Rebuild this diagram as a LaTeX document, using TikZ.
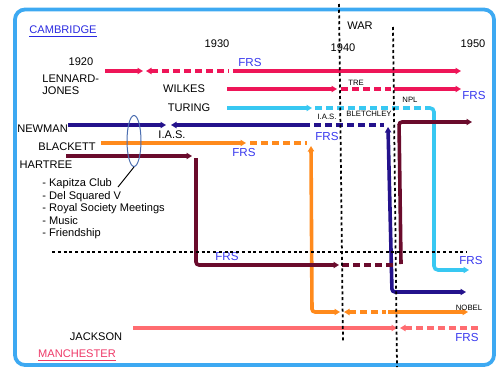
\documentclass[tikz,border=0pt]{standalone}
\usepackage{fontspec}
\setmainfont{Liberation Sans}
\usetikzlibrary{arrows.meta, shapes.geometric}
\definecolor{framebl}{HTML}{3DA9F2}
\definecolor{crimson}{HTML}{EE1558}
\definecolor{cyanl}{HTML}{38C8F2}
\definecolor{navy}{HTML}{24128C}
\definecolor{orangel}{HTML}{FF8A1C}
\definecolor{maroon}{HTML}{6A0B2C}
\definecolor{salmon}{HTML}{FF6C70}
\definecolor{frsblue}{HTML}{3838EE}
\definecolor{camblue}{HTML}{2A2AE0}
\definecolor{manred}{HTML}{EE3A68}
\definecolor{clubblue}{HTML}{4A6DB0}
\tikzset{
  >={Triangle[length=1.1mm, width=1.25mm]},
  lbl/.style={inner sep=0pt, text height=4.5pt, text depth=0pt,
              font=\fontsize{6.3}{7}\selectfont},
  sml/.style={inner sep=0pt, text height=3.2pt, text depth=0pt,
              font=\fontsize{4.4}{5}\selectfont},
  frs/.style={inner sep=0pt, text height=4.7pt, text depth=0pt,
              text=frsblue, font=\fontsize{6.6}{7}\selectfont},
  life/.style={line width=0.72mm, line cap=butt},
  gap/.style={dash pattern=on 1.4mm off 0.8mm},
  war/.style={black, line width=0.35mm, dash pattern=on 0.6mm off 0.55mm},
}

\begin{document}
\begin{tikzpicture}[x=0.2mm, y=-0.2mm]
  \useasboundingbox (0,0) rectangle (499,367);
  \draw[framebl, line width=0.75mm, rounded corners=2mm] (15,9.5) rectangle (494,365);

  % lifelines
  \draw[life, crimson, ->] (105,71) -- (143,71);
  \draw[life, crimson, gap, <-] (146,71) -- (229,71);
  \draw[life, crimson, ->] (233,71) -- (461,71);

  \draw[life, crimson, ->] (227,89) -- (337,89);
  \draw[life, crimson, gap] (341,89) -- (391,89);
  \draw[life, crimson, ->] (394,89) -- (461,89);

  \draw[life, cyanl, ->] (227,108) -- (312,108);
  \draw[life, cyanl, gap] (315,108) -- (428,108);
  \draw[life, cyanl, rounded corners=0.8mm, ->] (428,108) -- (434,108) -- (434,270) -- (469,270);

  \draw[life, navy, ->] (68,125) -- (166,125);
  \draw[life, navy, <-] (171,125) -- (303,125);
  \draw[life, navy, gap] (303,125) -- (384,125);
  \draw[life, navy, rounded corners=0.6mm, <->] (388,127) -- (392,292) -- (466,292);

  \draw[life, orangel, ->] (101,143) -- (246,143);
  \draw[life, orangel, gap] (250,143) -- (307,143);
  \draw[life, orangel, rounded corners=0.6mm, <->] (311,146) -- (312,312) -- (340,312);
  \draw[life, orangel, gap, <-] (344,312) -- (386,312);
  \draw[life, orangel, ->] (388,312) -- (468,312);

  \draw[life, maroon, ->] (66,156) -- (192,156);
  \draw[life, maroon, rounded corners=0.6mm, ->] (196,158) -- (196,265) -- (339,265);
  \draw[life, maroon, gap] (342,265) -- (396,265);
  \draw[life, maroon, rounded corners=0.6mm, ->] (401,264) -- (399,122) -- (472,122);

  \draw[life, salmon, ->] (133,328) -- (397,328);
  \draw[life, salmon, gap, <-] (400,328) -- (480,328);

  % years and places
  \node[lbl] (y1920) at (81,62) {1920};
  \node[lbl] (y1930) at (217,44) {1930};
  \node[lbl] (y1940) at (343,48) {1940};
  \node[lbl] (y1950) at (473,44) {1950};
  \node[lbl] (war) at (360,26) {WAR};
  \node[lbl, text=camblue] (cam) at (63,30) {\underline{CAMBRIDGE}};
  \node[lbl, text=manred] (man) at (77,354) {\underline{MANCHESTER}};

  % names
  \node[lbl, anchor=west] (lj1) at (42,79) {LENNARD-};
  \node[lbl, anchor=west] (lj2) at (42,91) {JONES};
  \node[lbl] (wilkes) at (184,89) {WILKES};
  \node[lbl] (turing) at (189,108) {TURING};
  \node[lbl, anchor=west] (newman) at (17,129) {NEWMAN};
  \node[lbl] (blackett) at (67,147) {BLACKETT};
  \node[lbl] (hartree) at (46,165) {HARTREE};
  \node[lbl] (jackson) at (96,337) {JACKSON};

  % places along the lines
  \node[lbl] (ias1) at (172,135) {I.A.S.};
  \node[sml] (tre) at (356,83) {TRE};
  \node[sml] (npl) at (410,100) {NPL};
  \node[sml] (ias2) at (327,117) {I.A.S.};
  \node[sml] (bletch) at (369,114) {BLETCHLEY};
  \node[sml] (nobel) at (469,308) {NOBEL};

  \node[frs] (frsLJ) at (250,62) {FRS};
  \node[frs] (frsW) at (474,95) {FRS};
  \node[frs] (frsN) at (327,136) {FRS};
  \node[frs] (frsB) at (244,152) {FRS};
  \node[frs] (frsH) at (227,256) {FRS};
  \node[frs] (frsT) at (471,260) {FRS};
  \node[frs] (frsJ) at (467,337) {FRS};

  % what linked them
  \foreach \i/\t in {0/Kapitza Club, 1/Del Squared V, 2/Royal Society Meetings, 3/Music, 4/Friendship}
    \node[lbl, anchor=west] (link\i) at (42,183+12.5*\i) {- \t};
  \node[ellipse, draw=clubblue, line width=0.2mm, minimum width=2.8mm,
        minimum height=10.2mm, inner sep=0pt] (club) at (134,141) {};
  \coordinate (clubend) at (118,187);
  \draw[line width=0.2mm] (club.south) -- (clubend);

  % war years
  \draw[war] (339,4) -- (343,343);
  \draw[war] (393,27) -- (397,367);
  \draw[war] (52,252) -- (467,252);
\end{tikzpicture}
\end{document}
